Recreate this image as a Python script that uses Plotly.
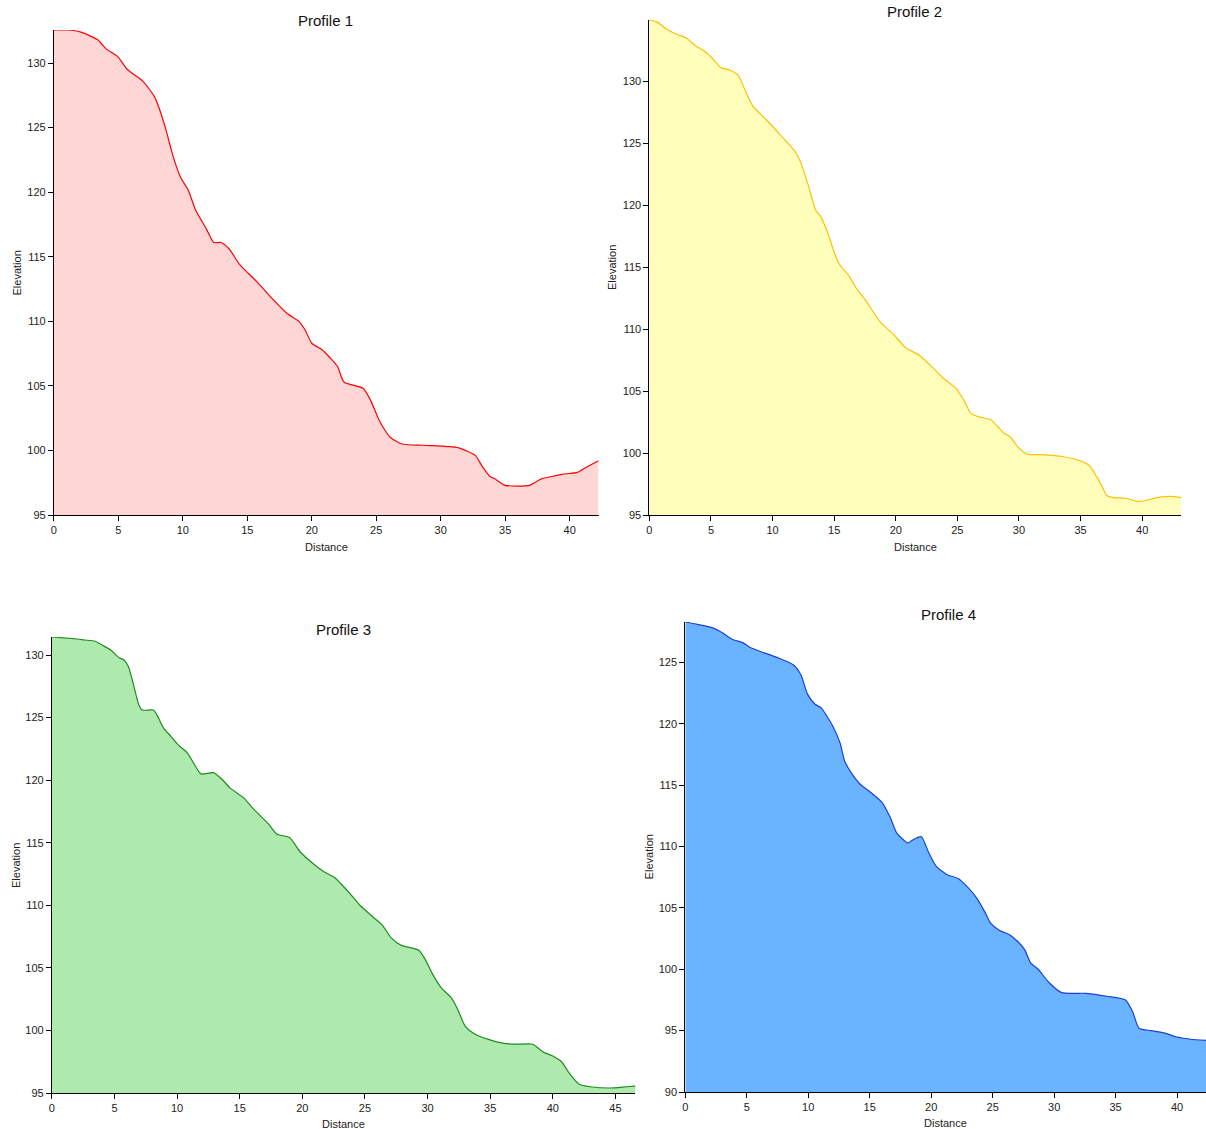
import plotly.graph_objects as go

# ---------------- data ----------------
p1_dist = [0, 1.1, 2.1, 3.4, 4.05, 4.95, 5.7, 6.9, 7.8, 8.2, 8.7, 9.1, 9.5, 9.85, 10.4, 11.0, 11.8, 12.4,
           12.95, 13.6, 14.4, 15.1, 15.9, 16.9, 18.1, 19.0, 19.5, 20.0, 20.8, 21.4, 22.0, 22.5, 24.0, 24.6,
           25.2, 25.65, 26.1, 27.0, 28.6, 30.5, 31.4, 32.7, 33.2, 33.8, 34.2, 35.0, 36.9, 37.8, 38.7, 39.4,
           40.6, 41.3, 42.24]
p1_elev = [132.56, 132.56, 132.4, 131.8, 131.1, 130.5, 129.5, 128.6, 127.4, 126.4, 124.8, 123.3, 122.0, 121.1,
           120.2, 118.6, 117.2, 116.1, 116.1, 115.6, 114.4, 113.7, 112.9, 111.8, 110.6, 110.0, 109.3, 108.3,
           107.8, 107.2, 106.5, 105.3, 104.8, 103.8, 102.4, 101.6, 101.0, 100.5, 100.4, 100.3, 100.2, 99.6,
           98.8, 98.0, 97.8, 97.3, 97.3, 97.8, 98.0, 98.15, 98.3, 98.7, 99.2]

p2_dist = [0, 0.6, 1.4, 2.2, 3.0, 3.7, 4.5, 5.15, 5.8, 6.55, 7.2, 7.8, 8.4, 9.5, 10.6, 11.85, 12.3, 12.9,
           13.5, 13.9, 14.5, 15.0, 15.45, 16.2, 16.8, 17.5, 18.8, 19.8, 20.8, 21.9, 22.8, 23.8, 24.9, 25.5,
           26.1, 26.8, 27.7, 28.3, 28.8, 29.3, 29.9, 30.7, 31.8, 33.6, 34.9, 35.7, 36.3, 36.8, 37.1, 37.7,
           38.7, 39.6, 40.2, 41.2, 42.3, 43.16]
p2_elev = [134.95, 134.8, 134.2, 133.8, 133.5, 132.9, 132.4, 131.8, 131.1, 130.9, 130.5, 129.2, 128.0, 126.9,
           125.7, 124.3, 123.4, 121.6, 119.6, 119.1, 117.7, 116.2, 115.2, 114.3, 113.3, 112.4, 110.5, 109.6,
           108.5, 107.9, 107.1, 106.1, 105.2, 104.3, 103.2, 102.9, 102.7, 102.1, 101.6, 101.3, 100.5, 99.9,
           99.87, 99.7, 99.4, 99.0, 98.1, 97.2, 96.6, 96.4, 96.35, 96.1, 96.15, 96.4, 96.5, 96.4]

p3_dist = [0, 1.8, 2.6, 3.45, 4.0, 4.7, 5.35, 5.75, 6.1, 6.55, 6.95, 7.2, 8.1, 8.4, 8.9, 9.5, 10.1, 10.8,
           11.3, 11.9, 12.9, 13.6, 14.2, 15.3, 16.0, 16.8, 17.3, 17.95, 19.0, 19.8, 20.9, 21.7, 22.6, 23.1,
           24.1, 24.6, 25.6, 26.4, 27.1, 27.9, 28.7, 29.3, 29.8, 30.4, 31.1, 31.9, 32.4, 33.0, 33.8, 34.8,
           36.1, 37.1, 38.4, 39.2, 40.0, 40.7, 41.3, 42.1, 43.0, 44.6, 45.9, 46.6]
p3_elev = [131.44, 131.3, 131.2, 131.1, 130.8, 130.4, 129.8, 129.6, 129.1, 127.5, 126.0, 125.6, 125.6, 125.2,
           124.2, 123.5, 122.8, 122.2, 121.4, 120.5, 120.6, 120.05, 119.4, 118.6, 117.8, 117.0, 116.5, 115.7,
           115.4, 114.3, 113.3, 112.7, 112.2, 111.7, 110.6, 110.0, 109.1, 108.4, 107.4, 106.8, 106.6, 106.4,
           105.7, 104.5, 103.4, 102.6, 101.7, 100.35, 99.7, 99.3, 98.96, 98.9, 98.9, 98.3, 97.95, 97.5, 96.6,
           95.7, 95.5, 95.4, 95.5, 95.55]

p4_dist = [0, 1.0, 2.3, 3.05, 3.8, 4.7, 5.25, 6.1, 7.5, 8.8, 9.4, 9.95, 10.55, 11.05, 12.0, 12.6, 12.95, 13.5,
           14.2, 15.1, 16.0, 16.7, 17.2, 18.1, 18.6, 19.2, 19.8, 20.4, 21.3, 22.2, 23.0, 23.7, 24.4, 24.8,
           25.5, 26.4, 27.1, 27.6, 28.1, 28.7, 29.6, 30.6, 32.6, 34.3, 35.8, 36.4, 36.9, 37.9, 39.0, 39.9,
           41.1, 42.35]
p4_elev = [128.3, 128.1, 127.8, 127.4, 126.9, 126.6, 126.25, 125.9, 125.4, 124.8, 124.0, 122.4, 121.6, 121.3,
           119.8, 118.4, 117.0, 116.0, 115.1, 114.4, 113.6, 112.3, 111.1, 110.3, 110.6, 110.8, 109.5, 108.4,
           107.7, 107.4, 106.65, 105.8, 104.6, 103.8, 103.2, 102.8, 102.2, 101.6, 100.5, 100.0, 98.9, 98.1,
           98.04, 97.8, 97.5, 96.5, 95.2, 95.0, 94.8, 94.5, 94.3, 94.2]

titles = ["Profile 1", "Profile 2", "Profile 3", "Profile 4"]
y_floor = [95, 95, 95, 90]
x_label = "Distance"
y_label = "Elevation"

# ---------------- styling / layout ----------------
W, H = 1206, 1129          # reference pixel space
H_FIG = 1135               # rendered height (compensates for capture scaling)
line_colors = ["#ff0000", "#ffc000", "#1e8c1e", "#1a3fd8"]
fill_colors = ["#ffd6d6", "#ffffbb", "#aeeaae", "#6ab4ff"]
# plot areas in pixels: left, right, top, bottom
boxes = [(51, 597, 30, 515), (648, 1181, 20, 515), (49, 634, 637, 1093), (684, 1206, 622, 1092)]
title_pos = [(323, 21), (914, 12), (341, 629), (948, 614)]
ylab_x = [14, 610, 13, 648]
xlab_y = [547, 547, 1124, 1123]

font_family = "Liberation Sans, Arial, sans-serif"

fig = go.Figure()
dists = [p1_dist, p2_dist, p3_dist, p4_dist]
elevs = [p1_elev, p2_elev, p3_elev, p4_elev]

annotations = []
for i in range(4):
    n = "" if i == 0 else str(i + 1)
    fig.add_trace(go.Scatter(
        x=dists[i], y=elevs[i], mode="lines",
        line=dict(color=line_colors[i], width=1.2, shape="spline", smoothing=0.6),
        fill="tozeroy", fillcolor=fill_colors[i],
        xaxis="x" + n, yaxis="y" + n, showlegend=False, hoverinfo="x+y"))
    l, r, t, b = boxes[i]
    axis_common = dict(showline=True, linecolor="#000", linewidth=1, ticks="outside", ticklen=5,
                       tickcolor="#000", showgrid=False, zeroline=False,
                       tickfont=dict(family=font_family, size=11, color="#222"))
    fig.layout["xaxis" + n] = dict(domain=[l / W, r / W], range=[0, dists[i][-1]], dtick=5,
                                   anchor="y" + n, **axis_common)
    fig.layout["yaxis" + n] = dict(domain=[1 - b / H, 1 - t / H], range=[y_floor[i], max(elevs[i])],
                                   dtick=5, anchor="x" + n, **axis_common)
    tx, ty = title_pos[i]
    annotations.append(dict(text=titles[i], x=tx / W, y=1 - ty / H, xref="paper", yref="paper",
                            showarrow=False, xanchor="center", yanchor="middle",
                            font=dict(family=font_family, size=15, color="#111")))
    annotations.append(dict(text=y_label, x=ylab_x[i] / W, y=1 - ((t + b) / 2) / H, xref="paper",
                            yref="paper", showarrow=False, textangle=-90, xanchor="center",
                            yanchor="middle", font=dict(family=font_family, size=11, color="#222")))
    annotations.append(dict(text=x_label, x=((l + r) / 2) / W, y=1 - xlab_y[i] / H, xref="paper",
                            yref="paper", showarrow=False, xanchor="center", yanchor="middle",
                            font=dict(family=font_family, size=11, color="#222")))

fig.update_layout(width=W, height=H_FIG, margin=dict(l=0, r=0, t=0, b=0),
                  paper_bgcolor="white", plot_bgcolor="white", annotations=annotations,
                  font=dict(family=font_family))

post = (
    "var d=document.documentElement,b=document.body;"
    "d.style.margin='0';d.style.padding='0';d.style.overflow='hidden';"
    "b.style.margin='0';b.style.padding='0';b.style.overflow='hidden';"
)
fig.write_html("out.html", config={"displayModeBar": False}, post_script=post)
